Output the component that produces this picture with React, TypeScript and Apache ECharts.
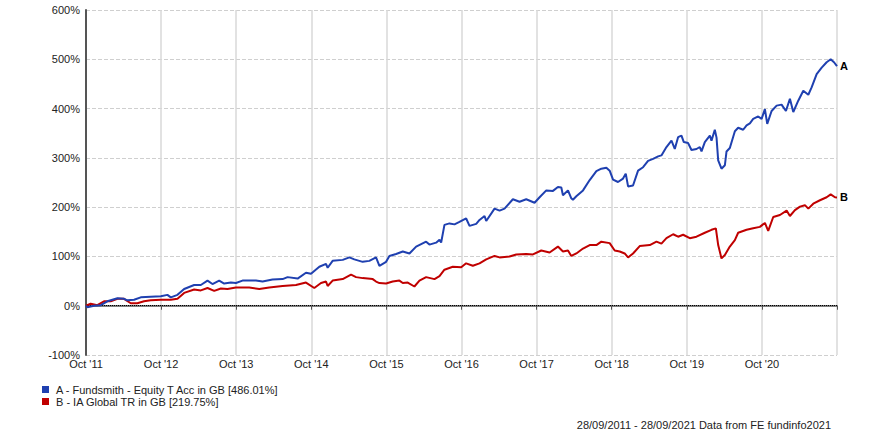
import React, { useEffect, useRef } from "react";
import * as echarts from "echarts";

const xTickLabels = ["Oct '11", "Oct '12", "Oct '13", "Oct '14", "Oct '15", "Oct '16", "Oct '17", "Oct '18", "Oct '19", "Oct '20"];

const fundName = "A - Fundsmith - Equity T Acc in GB [486.01%]";
const sectorName = "B - IA Global TR in GB [219.75%]";
const footerText = "28/09/2011 - 28/09/2021 Data from FE fundinfo2021";

// years since Oct 2011
const fundYears = [
  0, 0.018, 0.107, 0.196, 0.284, 0.418, 0.507, 0.551, 0.64, 0.729, 0.862, 0.996, 1.084, 1.129, 1.218, 1.307, 1.44, 1.529,
  1.618, 1.684, 1.773, 1.84, 1.929, 1.996, 2.084, 2.262, 2.351, 2.484, 2.618, 2.684, 2.818, 2.929, 2.996, 3.107, 3.196,
  3.218, 3.284, 3.418, 3.507, 3.573, 3.684, 3.773, 3.862, 3.907, 3.996, 4.04, 4.129, 4.218, 4.307, 4.396, 4.529, 4.573,
  4.662, 4.707, 4.729, 4.773, 4.84, 4.907, 4.973, 5.062, 5.107, 5.196, 5.24, 5.307, 5.329, 5.44, 5.507, 5.573, 5.684,
  5.773, 5.862, 5.973, 6.04, 6.129, 6.218, 6.284, 6.329, 6.351, 6.418, 6.462, 6.484, 6.529, 6.618, 6.707, 6.796, 6.862,
  6.929, 6.973, 7.018, 7.084, 7.151, 7.187, 7.218, 7.284, 7.351, 7.418, 7.484, 7.551, 7.618, 7.662, 7.729, 7.796, 7.84,
  7.884, 7.929, 7.96, 8.018, 8.062, 8.129, 8.173, 8.196, 8.24, 8.307, 8.329, 8.373, 8.396, 8.418, 8.462, 8.507, 8.529,
  8.573, 8.64, 8.684, 8.751, 8.796, 8.84, 8.884, 8.951, 8.996, 9.04, 9.071, 9.129, 9.196, 9.262, 9.32, 9.373, 9.418,
  9.484, 9.551, 9.618, 9.662, 9.729, 9.796, 9.862, 9.916, 9.96, 10.0,
];
const fundReturns = [
  0, -3, 0, 1, 9, 15, 14, 11, 12, 17, 18, 19, 22, 17, 22, 34, 42, 42,
  51, 44, 51, 45, 47, 46, 51, 51, 49, 53, 54, 58, 55, 67, 65, 79, 85,
  77, 91, 93, 98, 94, 89, 91, 98, 81, 89, 101, 105, 110, 106, 120, 130, 124,
  128, 134, 128, 164, 167, 165, 170, 177, 162, 166, 174, 182, 172, 197, 193, 197, 216,
  211, 216, 209, 220, 234, 233, 241, 240, 224, 234, 218, 215, 222, 234, 255, 273, 278,
  280, 274, 256, 251, 258, 268, 242, 244, 274, 281, 294, 298, 303, 305, 322, 335, 318,
  342, 345, 332, 330, 316, 318, 322, 313, 332, 345, 335, 357, 341, 295, 278, 285, 313,
  320, 354, 361, 357, 366, 370, 379, 384, 379, 399, 369, 395, 406, 408, 395, 420, 393,
  416, 436, 428, 443, 470, 483, 494, 500, 494, 486.01,
];

const sectorYears = [
  0, 0.062, 0.151, 0.24, 0.329, 0.418, 0.507, 0.596, 0.684, 0.773, 0.862, 0.996, 1.129, 1.218, 1.307, 1.44, 1.529, 1.618,
  1.707, 1.796, 1.884, 1.996, 2.173, 2.307, 2.44, 2.618, 2.796, 2.929, 3.04, 3.129, 3.196, 3.218, 3.284, 3.418, 3.529,
  3.596, 3.684, 3.818, 3.862, 3.907, 3.996, 4.084, 4.173, 4.218, 4.284, 4.373, 4.44, 4.529, 4.64, 4.707, 4.773, 4.884,
  4.996, 5.062, 5.151, 5.24, 5.329, 5.44, 5.507, 5.64, 5.729, 5.862, 5.951, 6.062, 6.173, 6.284, 6.351, 6.418, 6.462,
  6.529, 6.618, 6.707, 6.796, 6.862, 6.973, 7.04, 7.107, 7.173, 7.218, 7.284, 7.373, 7.507, 7.596, 7.662, 7.729, 7.818,
  7.884, 7.951, 8.04, 8.129, 8.24, 8.329, 8.387, 8.418, 8.462, 8.507, 8.573, 8.64, 8.684, 8.796, 8.884, 8.973, 9.04,
  9.084, 9.151, 9.24, 9.329, 9.373, 9.44, 9.507, 9.573, 9.618, 9.684, 9.773, 9.862, 9.916, 9.973, 10.0,
];
const sectorReturns = [
  0, 4, 1, 9, 9, 14, 14, 5, 5, 9, 11, 12, 12, 14, 26, 33, 31, 36,
  30, 35, 34, 37, 37, 34, 37, 40, 42, 47, 36, 46, 49, 40, 51, 54, 63,
  58, 56, 54, 49, 46, 45, 49, 51, 46, 47, 39, 51, 58, 54, 60, 73, 79,
  78, 86, 81, 86, 94, 101, 98, 100, 104, 105, 104, 112, 108, 120, 110, 112, 101,
  106, 116, 123, 123, 130, 127, 112, 110, 106, 98, 106, 121, 123, 130, 126, 137, 145,
  140, 144, 137, 140, 148, 154, 157, 123, 96, 103, 120, 133, 148, 154, 157, 160, 168,
  152, 180, 184, 193, 182, 194, 201, 204, 197, 207, 214, 220, 226, 220, 219.75,
];

export default function App() {
  const ref = useRef<HTMLDivElement>(null);

  useEffect(() => {
    const chart = echarts.init(ref.current!, null, { renderer: "svg" });
    const fontFamily = "'Liberation Sans', Arial, sans-serif";
    chart.setOption({
      animation: false,
      backgroundColor: "#ffffff",
      textStyle: { fontFamily },
      grid: { left: 86, right: 42, top: 10, bottom: 84, containLabel: false },
      legend: {
        orient: "vertical",
        left: 37,
        top: 379,
        icon: "rect",
        itemWidth: 7,
        itemHeight: 7,
        itemGap: 1,
        selectedMode: false,
        textStyle: { fontSize: 11, color: "#222", fontFamily, padding: [0, 0, 0, 2] },
        data: [fundName, sectorName],
      },
      xAxis: {
        type: "value",
        min: 0,
        max: 10,
        interval: 1,
        axisLine: { show: true, lineStyle: { color: "#555", width: 1.5 } },
        axisTick: { show: true, length: 4, lineStyle: { color: "#555" } },
        axisLabel: {
          fontSize: 11,
          color: "#222",
          margin: 3,
          formatter: (v: number) => xTickLabels[Math.round(v)] ?? "",
        },
        splitLine: { show: true, lineStyle: { color: "#d8d8d8", width: 1.5 } },
      },
      yAxis: {
        type: "value",
        min: -100,
        max: 600,
        interval: 100,
        axisLine: { show: true, lineStyle: { color: "#555", width: 2 } },
        axisTick: { show: false },
        axisLabel: { fontSize: 11, color: "#222", margin: 6, formatter: "{value}%" },
        splitLine: { show: true, lineStyle: { color: "#cfcfcf", width: 1, type: "dashed" } },
      },
      series: [
        {
          name: fundName,
          type: "line",
          data: fundYears.map((t, i) => [t, fundReturns[i]]),
          showSymbol: false,
          symbol: "none",
          color: "#1f40b0",
          lineStyle: { color: "#1f40b0", width: 2 },
          endLabel: { show: true, formatter: "A", color: "#000", fontWeight: "bold", fontSize: 11, distance: 3 },
          markLine: {
            silent: true,
            symbol: "none",
            label: { show: false },
            lineStyle: { color: "#000", type: "dotted", width: 1 },
            data: [{ yAxis: 0 }],
            z: 1,
          },
          z: 3,
        },
        {
          name: sectorName,
          type: "line",
          data: sectorYears.map((t, i) => [t, sectorReturns[i]]),
          showSymbol: false,
          symbol: "none",
          color: "#c00000",
          lineStyle: { color: "#c00000", width: 2 },
          endLabel: { show: true, formatter: "B", color: "#000", fontWeight: "bold", fontSize: 11, distance: 3 },
          z: 2,
        },
      ],
      graphic: [
        {
          type: "text",
          right: 48,
          top: 419,
          style: { text: footerText, fontSize: 11, fill: "#222", fontFamily },
        },
      ],
    });
    return () => chart.dispose();
  }, []);

  return (
    <div
      ref={ref}
      style={{ position: "fixed", left: 0, top: 0, width: 879, height: 439, background: "#fff" }}
    />
  );
}
